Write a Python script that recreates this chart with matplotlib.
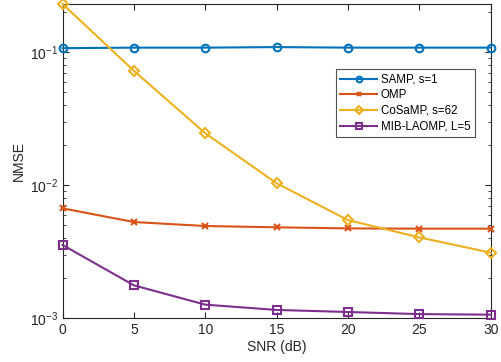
import matplotlib
matplotlib.use("Agg")
import matplotlib.pyplot as plt
from matplotlib.ticker import LogLocator, NullFormatter

plt.rcParams["font.family"] = ["Liberation Sans", "DejaVu Sans"]

# data
snr = [0, 5, 10, 15, 20, 25, 30]
samp = [0.107, 0.108, 0.108, 0.109, 0.108, 0.108, 0.108]
omp = [0.00668, 0.00527, 0.00492, 0.00481, 0.00472, 0.00470, 0.00470]
cosamp = [0.23, 0.0722, 0.0245, 0.0103, 0.00545, 0.00404, 0.0031]
mib_laomp = [0.00354, 0.00176, 0.00126, 0.00115, 0.00111, 0.00107, 0.00106]

labels = ["SAMP, s=1", "OMP", "CoSaMP, s=62", "MIB-LAOMP, L=5"]
colors = ["#0072BD", "#D95319", "#EDB120", "#7E2F8E"]
markers = ["o", "x", "D", "s"]
msizes = [5.5, 4.5, 5.5, 5.5]

fig = plt.figure(figsize=(5.01, 3.62), dpi=100)
ax = fig.add_axes([0.125, 0.1215, 0.8545, 0.8675])

for y, lab, c, m, ms in zip([samp, omp, cosamp, mib_laomp], labels, colors, markers, msizes):
    ax.plot(snr, y, color=c, marker=m, markersize=ms, markerfacecolor="none",
            markeredgewidth=1.5, linewidth=1.5, label=lab, clip_on=False, zorder=3)

ax.set_yscale("log")
ax.set_xlim(0, 30)
ax.set_ylim(1e-3, 0.23)
ax.set_xticks(snr)
ax.yaxis.set_major_locator(LogLocator(base=10, numticks=10))
ax.yaxis.set_minor_locator(LogLocator(base=10, subs=range(2, 10), numticks=20))
ax.yaxis.set_minor_formatter(NullFormatter())

axcol = "#262626"
for s in ax.spines.values():
    s.set_color(axcol)
    s.set_linewidth(0.8)
ax.tick_params(which="both", direction="in", top=True, right=True,
               colors=axcol, labelcolor=axcol, labelsize=10)
ax.tick_params(which="major", length=4)
ax.tick_params(which="minor", length=2.5)

ax.set_xlabel("SNR (dB)", fontsize=10, color=axcol, labelpad=2)
ax.set_ylabel("NMSE", fontsize=10, color=axcol, labelpad=3)

leg = ax.legend(loc="upper right", bbox_to_anchor=(0.963, 0.793), fontsize=8.3,
                frameon=True, fancybox=False, edgecolor=axcol, borderaxespad=0,
                handlelength=3.2, labelspacing=0.32, borderpad=0.4, handletextpad=0.3,
                markerscale=0.75)
leg.get_frame().set_linewidth(0.8)

fig.savefig("out.png", dpi=100)
